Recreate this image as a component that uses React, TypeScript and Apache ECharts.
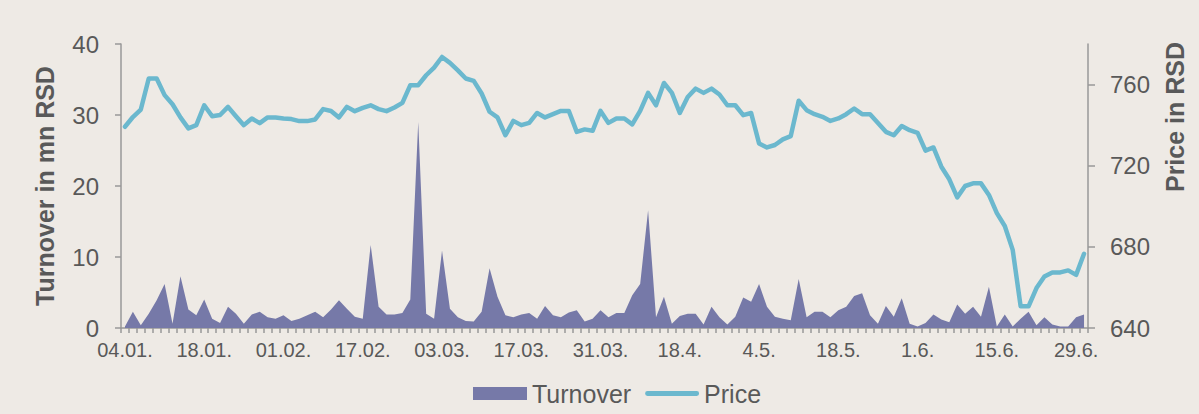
import React, { useEffect, useRef } from "react";
import * as echarts from "echarts";

const tickLabels = ["04.01.", "18.01.", "01.02.", "17.02.", "03.03.", "17.03.", "31.03.", "18.4.", "4.5.", "18.5.", "1.6.", "15.6.", "29.6."];

const turnover = [
  0.2, 2.3, 0.4, 2.0, 3.9, 6.2, 0.6, 7.3, 2.6, 1.8,
  4.0, 1.3, 0.7, 3.0, 2.0, 0.6, 1.9, 2.3, 1.5, 1.3,
  1.8, 1.0, 1.3, 1.8, 2.3, 1.5, 2.6, 3.9, 2.7, 1.6,
  1.3, 11.7, 3.0, 1.9, 1.9, 2.1, 4.0, 29.0, 2.0, 1.3,
  10.9, 2.7, 1.5, 1.0, 0.9, 2.3, 8.4, 4.4, 1.8, 1.5,
  1.9, 2.1, 1.3, 3.1, 1.8, 1.5, 2.2, 2.5, 0.9, 1.3,
  2.5, 1.5, 2.1, 2.1, 4.6, 6.2, 16.6, 1.5, 4.4, 0.6,
  1.7, 2.0, 2.0, 0.5, 3.0, 1.5, 0.5, 1.6, 4.3, 3.7,
  6.2, 3.0, 1.6, 1.3, 1.1, 6.9, 1.5, 2.3, 2.3, 1.5,
  2.5, 3.0, 4.5, 4.9, 1.8, 0.6, 3.1, 1.6, 4.2, 0.6,
  0.2, 0.7, 1.9, 1.2, 0.8, 3.3, 2.0, 3.0, 1.6, 5.8,
  0.2, 1.9, 0.2, 1.3, 2.3, 0.4, 1.5, 0.5, 0.2, 0.2,
  1.5, 1.9,
];

const price = [
  739.2, 744, 747.7, 763, 763, 754.8, 750.3, 743.8, 738.4, 740,
  749.8, 744.4, 745, 749, 744.4, 740, 743.3, 741, 743.8, 743.8,
  743.3, 743, 742, 742, 742.8, 747.9, 747, 743.8, 749, 746.9,
  748.5, 749.8, 747.9, 746.9, 748.7, 751, 759.7, 759.7, 764.6, 768.4,
  773.6, 770.7, 767, 763, 761.8, 755.6, 746.6, 743.8, 735, 742.1,
  740, 741.1, 746, 743.8, 745.4, 747, 747, 736.7, 737.9, 737.2,
  747, 741.1, 743.3, 743.3, 740.4, 747, 755.9, 749.8, 760.8, 755.9,
  746, 753.9, 758, 755.9, 758, 755.1, 749.8, 749.8, 744.9, 746,
  731, 729, 730.2, 733, 734.6, 752, 747.4, 745.4, 744.1, 742.1,
  743.3, 745.4, 748.2, 745.4, 745.4, 741.1, 736.7, 735, 739.6, 737.5,
  736.2, 727.4, 729, 719.5, 713.3, 704.4, 710, 711.3, 711.3, 705.6,
  696.6, 690.3, 678.5, 650.7, 650.7, 659.7, 665.4, 667.4, 667.4, 668.4,
  666.2, 676.6,
];

const labelEvery = 10;
const categories = turnover.map((_, i) =>
  i % labelEvery === 0 && tickLabels[i / labelEvery] ? tickLabels[i / labelEvery] : "d" + i
);

const rightTicks = [640, 680, 720, 760];

const TEXT = "#595959";
const AXIS = "#989898";
const FONT = "Liberation Sans, Arial, sans-serif";
const LINE_ICON = "path://M2.5,0 L53.5,0 A2.5,2.5 0 0 1 53.5,5 L2.5,5 A2.5,2.5 0 0 1 2.5,0 Z";

export default function App() {
  const ref = useRef<HTMLDivElement>(null);
  useEffect(() => {
    if (!ref.current) return;
    const chart = echarts.init(ref.current, undefined, { renderer: "svg" });
    chart.setOption({
      animation: false,
      backgroundColor: "#EEEAE5",
      textStyle: { fontFamily: FONT },
      grid: { left: 121, right: 111, top: 44, bottom: 86, containLabel: false },
      legend: {
        left: 468,
        top: 376,
        itemWidth: 54,
        itemHeight: 13,
        itemGap: 14,
        symbolKeepAspect: true,
        textStyle: { color: TEXT, fontSize: 25, fontFamily: FONT },
        data: [
          { name: "Turnover", icon: "rect" },
          { name: "Price", icon: LINE_ICON },
        ],
      },
      xAxis: {
        type: "category",
        data: categories,
        boundaryGap: true,
        axisLine: { lineStyle: { color: AXIS, width: 1.5 } },
        axisTick: { show: true, interval: 0, length: 5, lineStyle: { color: AXIS, width: 1.5 } },
        axisLabel: {
          interval: labelEvery - 1,
          color: TEXT,
          fontSize: 20,
          fontFamily: FONT,
          margin: 12,
        },
        splitLine: { show: false },
      },
      yAxis: [
        {
          type: "value",
          min: 0,
          max: 40,
          interval: 10,
          position: "left",
          name: "Turnover in mn RSD",
          nameLocation: "middle",
          nameGap: 64,
          nameTextStyle: { color: TEXT, fontSize: 25, fontWeight: "bold", fontFamily: FONT },
          axisLine: { show: true, lineStyle: { color: AXIS, width: 1.5 } },
          axisTick: { show: true, length: 6, lineStyle: { color: AXIS, width: 1.5 } },
          axisLabel: { color: TEXT, fontSize: 24, fontFamily: FONT, margin: 22 },
          splitLine: { show: false },
        },
        {
          type: "value",
          min: 640,
          max: 780,
          interval: 40,
          position: "right",
          name: "Price in RSD",
          nameLocation: "middle",
          nameGap: 74,
          nameTextStyle: {
            color: TEXT,
            fontSize: 25,
            fontWeight: "bold",
            fontFamily: FONT,
            padding: [0, 0, 0, 138],
          },
          axisLine: { show: true, lineStyle: { color: AXIS, width: 1.5 } },
          axisTick: { show: true, length: 7, customValues: rightTicks, lineStyle: { color: AXIS, width: 1.5 } },
          axisLabel: { color: TEXT, fontSize: 24, fontFamily: FONT, margin: 22, customValues: rightTicks },
          splitLine: { show: false },
        },
      ],
      series: [
        {
          name: "Turnover",
          type: "line",
          yAxisIndex: 0,
          data: turnover,
          symbol: "none",
          color: "#7679A8",
          itemStyle: { color: "#7679A8" },
          lineStyle: { width: 0, color: "#7679A8" },
          areaStyle: { color: "#7679A8", opacity: 1 },
          z: 2,
        },
        {
          name: "Price",
          type: "line",
          yAxisIndex: 1,
          data: price,
          symbol: "none",
          color: "#6BB8CE",
          itemStyle: { color: "#6BB8CE" },
          lineStyle: { width: 4.5, color: "#6BB8CE", join: "round", cap: "round" },
          z: 3,
        },
      ],
    });
    return () => chart.dispose();
  }, []);
  return (
    <div
      ref={ref}
      style={{ position: "fixed", left: 0, top: 0, width: 1199, height: 414 }}
    />
  );
}
